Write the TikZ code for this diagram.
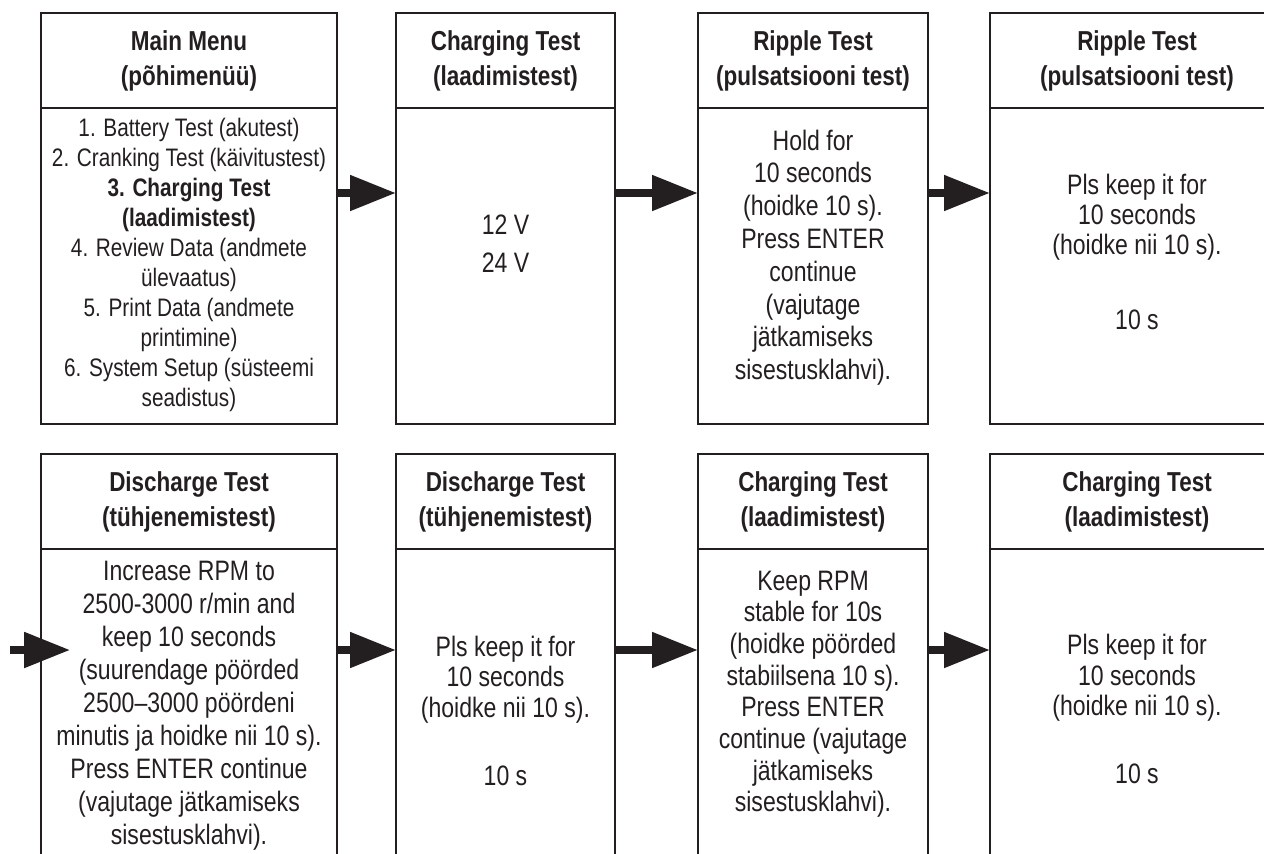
\documentclass[tikz,border=0pt]{standalone}
\usepackage{fontspec}
\setmainfont{Liberation Sans}[FakeStretch=0.82]
\usepackage{tikz}
\usetikzlibrary{arrows.meta, positioning}
\definecolor{ink}{HTML}{231F20}

\begin{document}
\begin{tikzpicture}[
  head/.style={draw=ink, line width=1.8pt, minimum height=2.375cm, outer sep=0pt,
               align=center, text=ink, font=\fontsize{19.5}{24.9}\selectfont\bfseries},
  body/.style={draw=ink, line width=1.8pt, minimum height=7.9cm, outer sep=0pt},
  txt/.style={align=center, text=ink, inner sep=0pt, font=\fontsize{20}{#1}\selectfont},
  txt/.default=23.5,
  blockarr/.style={-{Triangle[length=1.15cm, width=0.85cm]}, line width=0.2cm, draw=ink}
]
\useasboundingbox (0,0) rectangle (31.6,-21.325);
\clip (0,0) rectangle (31.6,-21.325);

% top row
\node[head, minimum width=7.4cm]  (h1) at (4.725,-1.5125)  {Main Menu\\(põhimenüü)};
\node[head, minimum width=5.475cm] (h2) at (12.6375,-1.5125) {Charging Test\\(laadimistest)};
\node[head, minimum width=5.75cm] (h3) at (20.325,-1.5125) {Ripple Test\\(pulsatsiooni test)};
\node[head, minimum width=7.35cm] (h4) at (28.425,-1.5125) {Ripple Test\\(pulsatsiooni test)};
\node[body, minimum width=7.4cm,  below=0pt of h1] (b1) {};
\node[body, minimum width=5.475cm, below=0pt of h2] (b2) {};
\node[body, minimum width=5.75cm, below=0pt of h3] (b3) {};
\node[body, minimum width=7.35cm, below=0pt of h4] (b4) {};

% bottom row
\node[head, minimum width=7.4cm]  (h5) at (4.725,-12.5375)  {Discharge Test\\(tühjenemistest)};
\node[head, minimum width=5.475cm] (h6) at (12.6375,-12.5375) {Discharge Test\\(tühjenemistest)};
\node[head, minimum width=5.75cm] (h7) at (20.325,-12.5375) {Charging Test\\(laadimistest)};
\node[head, minimum width=7.35cm] (h8) at (28.425,-12.5375) {Charging Test\\(laadimistest)};
\node[body, minimum width=7.4cm,  minimum height=9cm, below=0pt of h5] (b5) {};
\node[body, minimum width=5.475cm, minimum height=9cm, below=0pt of h6] (b6) {};
\node[body, minimum width=5.75cm, minimum height=9cm, below=0pt of h7] (b7) {};
\node[body, minimum width=7.35cm, minimum height=9cm, below=0pt of h8] (b8) {};

% screen texts
\node[txt, font=\fontsize{18}{21.3}\selectfont] (t1) at ([yshift=-3.925cm]b1.north)
  {1. Battery Test (akutest)\\2. Cranking Test (käivitustest)\\\textbf{3. Charging Test}\\
   \textbf{(laadimistest)}\\4. Review Data (andmete\\ülevaatus)\\5. Print Data (andmete\\
   printimine)\\6. System Setup (süsteemi\\seadistus)};
\node[txt=27] (t2) at ([yshift=-3.4cm]b2.north) {12 V\\24 V};
\node[txt=23.3] (t3) at ([yshift=-3.74cm]b3.north)
  {Hold for\\10 seconds\\(hoidke 10 s).\\Press ENTER\\continue\\(vajutage\\jätkamiseks\\sisestusklahvi).};
\node[txt=21.3] (t4) at ([yshift=-3.6cm]b4.north)
  {Pls keep it for\\10 seconds\\(hoidke nii 10 s).\\[32.7pt]10 s};
\node[txt=23.5] (t5) at ([yshift=-3.91cm]b5.north)
  {Increase RPM to\\2500-3000 r/min and\\keep 10 seconds\\(suurendage pöörded\\2500–3000 pöördeni\\
   minutis ja hoidke nii 10 s).\\Press ENTER continue\\(vajutage jätkamiseks\\sisestusklahvi).};
\node[txt=21.7] (t6) at ([yshift=-4.04cm]b6.north)
  {Pls keep it for\\10 seconds\\(hoidke nii 10 s).\\[26.7pt]10 s};
\node[txt=22.5] (t7) at ([yshift=-3.63cm]b7.north)
  {Keep RPM\\stable for 10s\\(hoidke pöörded\\stabiilsena 10 s).\\Press ENTER\\continue (vajutage\\jätkamiseks\\sisestusklahvi).};
\node[txt=21.7] (t8) at ([yshift=-4.0cm]b8.north)
  {Pls keep it for\\10 seconds\\(hoidke nii 10 s).\\[26.7pt]10 s};

% arrows
\coordinate (row1) at (0,-4.825);
\coordinate (row2) at (0,-16.25);
\coordinate (in) at (0.25,-16.25);
\path (b5.west |- row2) ++(0.73,0) coordinate (tip5);
\draw[blockarr] (b1.east |- row1) -- (b2.west |- row1);
\draw[blockarr] (b2.east |- row1) -- (b3.west |- row1);
\draw[blockarr] (b3.east |- row1) -- (b4.west |- row1);
\draw[blockarr] (in) -- (tip5);
\draw[blockarr] (b5.east |- row2) -- (b6.west |- row2);
\draw[blockarr] (b6.east |- row2) -- (b7.west |- row2);
\draw[blockarr] (b7.east |- row2) -- (b8.west |- row2);
\end{tikzpicture}
\end{document}
